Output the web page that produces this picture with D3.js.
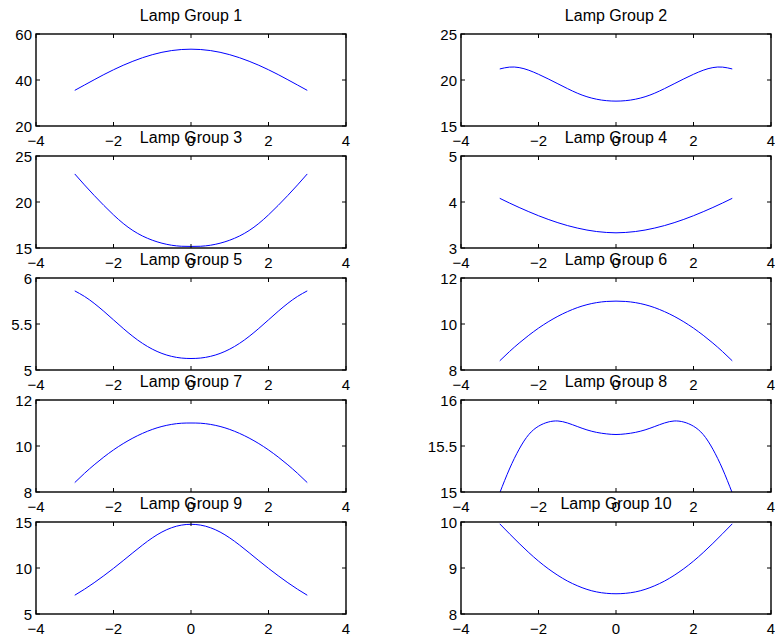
<!DOCTYPE html>
<html>
<head>
<meta charset="utf-8">
<script src="https://cdn.jsdelivr.net/npm/d3@7"></script>
<style>
  html, body { margin: 0; padding: 0; background: #fff; }
  svg text { font-family: "Liberation Sans", Arial, Helvetica, sans-serif; fill: #000; }
</style>
</head>
<body>
<svg id="chart" width="775" height="637"></svg>
<script>
// ---- data ----
const xs = [-3, -2.75, -2.5, -2.25, -2, -1.75, -1.5, -1.25, -1, -0.75, -0.5, -0.25, 0,
            0.25, 0.5, 0.75, 1, 1.25, 1.5, 1.75, 2, 2.25, 2.5, 2.75, 3];
const titles = ["Lamp Group 1", "Lamp Group 2", "Lamp Group 3", "Lamp Group 4", "Lamp Group 5",
                "Lamp Group 6", "Lamp Group 7", "Lamp Group 8", "Lamp Group 9", "Lamp Group 10"];
const g1  = [35.5, 37.8, 40.1, 42.35, 44.45, 46.4, 48.15, 49.7, 51.0, 52.05, 52.8, 53.25, 53.4, 53.25, 52.8, 52.05, 51.0, 49.7, 48.15, 46.4, 44.45, 42.35, 40.1, 37.8, 35.5];
const g2  = [21.2, 21.4, 21.35, 21.06, 20.62, 20.12, 19.59, 19.06, 18.57, 18.18, 17.91, 17.755, 17.705, 17.755, 17.91, 18.18, 18.57, 19.06, 19.59, 20.12, 20.62, 21.06, 21.35, 21.4, 21.2];
const g3  = [23.05, 21.86, 20.72, 19.63, 18.6, 17.67, 16.9, 16.3, 15.85, 15.52, 15.3, 15.19, 15.17, 15.19, 15.3, 15.52, 15.85, 16.3, 16.9, 17.67, 18.6, 19.63, 20.72, 21.86, 23.05];
const g4  = [4.08, 3.978, 3.881, 3.789, 3.702, 3.622, 3.55, 3.487, 3.434, 3.39, 3.358, 3.338, 3.33, 3.338, 3.358, 3.39, 3.434, 3.487, 3.55, 3.622, 3.702, 3.789, 3.881, 3.978, 4.08];
const g5  = [5.86, 5.80, 5.725, 5.638, 5.545, 5.452, 5.365, 5.289, 5.227, 5.18, 5.148, 5.13, 5.125, 5.13, 5.148, 5.18, 5.227, 5.289, 5.365, 5.452, 5.545, 5.638, 5.725, 5.80, 5.86];
const g6  = [8.40, 8.80, 9.17, 9.51, 9.82, 10.095, 10.335, 10.54, 10.71, 10.84, 10.93, 10.98, 10.995, 10.98, 10.93, 10.84, 10.71, 10.54, 10.335, 10.095, 9.82, 9.51, 9.17, 8.80, 8.40];
const g7  = [8.41, 8.81, 9.18, 9.52, 9.83, 10.105, 10.345, 10.55, 10.72, 10.85, 10.94, 10.99, 11.0, 10.99, 10.94, 10.85, 10.72, 10.55, 10.345, 10.105, 9.83, 9.52, 9.18, 8.81, 8.41];
const g8  = [14.99, 15.25, 15.465, 15.625, 15.715, 15.76, 15.772, 15.75, 15.712, 15.675, 15.648, 15.632, 15.625, 15.632, 15.648, 15.675, 15.712, 15.75, 15.772, 15.76, 15.715, 15.625, 15.465, 15.25, 14.99];
const g9  = [7.04, 7.69, 8.4, 9.16, 9.96, 10.8, 11.66, 12.5, 13.27, 13.91, 14.38, 14.66, 14.75, 14.66, 14.38, 13.91, 13.27, 12.5, 11.66, 10.8, 9.96, 9.16, 8.4, 7.69, 7.04];
const g10 = [9.96, 9.745, 9.535, 9.335, 9.15, 8.985, 8.84, 8.715, 8.615, 8.535, 8.48, 8.45, 8.44, 8.45, 8.48, 8.535, 8.615, 8.715, 8.84, 8.985, 9.15, 9.335, 9.535, 9.745, 9.96];
const series = [g1, g2, g3, g4, g5, g6, g7, g8, g9, g10];
const xTicks = [-4, -2, 0, 2, 4];
const xDomain = [-4, 4];
const yDomains = [[20, 60], [15, 25], [15, 25], [3, 5], [5, 6], [8, 12], [8, 12], [15, 16], [5, 15], [8, 10]];
const yTicks = [[20, 40, 60], [15, 20, 25], [15, 20, 25], [3, 4, 5], [5, 5.5, 6], [8, 10, 12], [8, 10, 12], [15, 15.5, 16], [5, 10, 15], [8, 9, 10]];

// ---- layout ----
const svg = d3.select("#chart");
const colLeft = [36, 461];
const plotW = 310;
const rowTop0 = 34, rowStep = 122, plotH = 92;
const tickFont = 15, titleFont = 16;
const tickLen = 4;
const fmt = v => String(v).replace("-", "\u2212");

series.forEach((vals, i) => {
  const col = i % 2, row = Math.floor(i / 2);
  const left = colLeft[col], top = rowTop0 + row * rowStep;
  const x = d3.scaleLinear().domain(xDomain).range([left, left + plotW]);
  const y = d3.scaleLinear().domain(yDomains[i]).range([top + plotH, top]);
  const g = svg.append("g");

  const clipId = "clip" + i;
  svg.append("clipPath").attr("id", clipId).append("rect")
    .attr("x", left).attr("y", top).attr("width", plotW).attr("height", plotH);

  // line
  const line = d3.line().x((d, k) => x(xs[k])).y(d => y(d)).curve(d3.curveNatural);
  g.append("path").attr("d", line(vals)).attr("fill", "none")
    .attr("stroke", "#0000ff").attr("stroke-width", 1).attr("clip-path", `url(#${clipId})`);

  // ticks (inward, all four sides)
  xTicks.forEach(t => {
    g.append("line").attr("x1", x(t)).attr("x2", x(t)).attr("y1", top + plotH).attr("y2", top + plotH - tickLen)
      .attr("stroke", "#000").attr("stroke-width", 1);
    g.append("line").attr("x1", x(t)).attr("x2", x(t)).attr("y1", top).attr("y2", top + tickLen)
      .attr("stroke", "#000").attr("stroke-width", 1);
    g.append("text").attr("x", x(t)).attr("y", top + plotH + 19.5).attr("text-anchor", "middle")
      .attr("font-size", tickFont).text(fmt(t));
  });
  yTicks[i].forEach(t => {
    g.append("line").attr("x1", left).attr("x2", left + tickLen).attr("y1", y(t)).attr("y2", y(t))
      .attr("stroke", "#000").attr("stroke-width", 1);
    g.append("line").attr("x1", left + plotW).attr("x2", left + plotW - tickLen).attr("y1", y(t)).attr("y2", y(t))
      .attr("stroke", "#000").attr("stroke-width", 1);
    g.append("text").attr("x", left - 4).attr("y", y(t) + 5.5).attr("text-anchor", "end")
      .attr("font-size", tickFont).text(fmt(t));
  });

  // box
  g.append("rect").attr("x", left).attr("y", top).attr("width", plotW).attr("height", plotH)
    .attr("fill", "none").attr("stroke", "#000").attr("stroke-width", 1.4);

  // title
  g.append("text").attr("x", left + plotW / 2).attr("y", top - 13.5).attr("text-anchor", "middle")
    .attr("font-size", titleFont).text(titles[i]);
});
</script>
</body>
</html>
